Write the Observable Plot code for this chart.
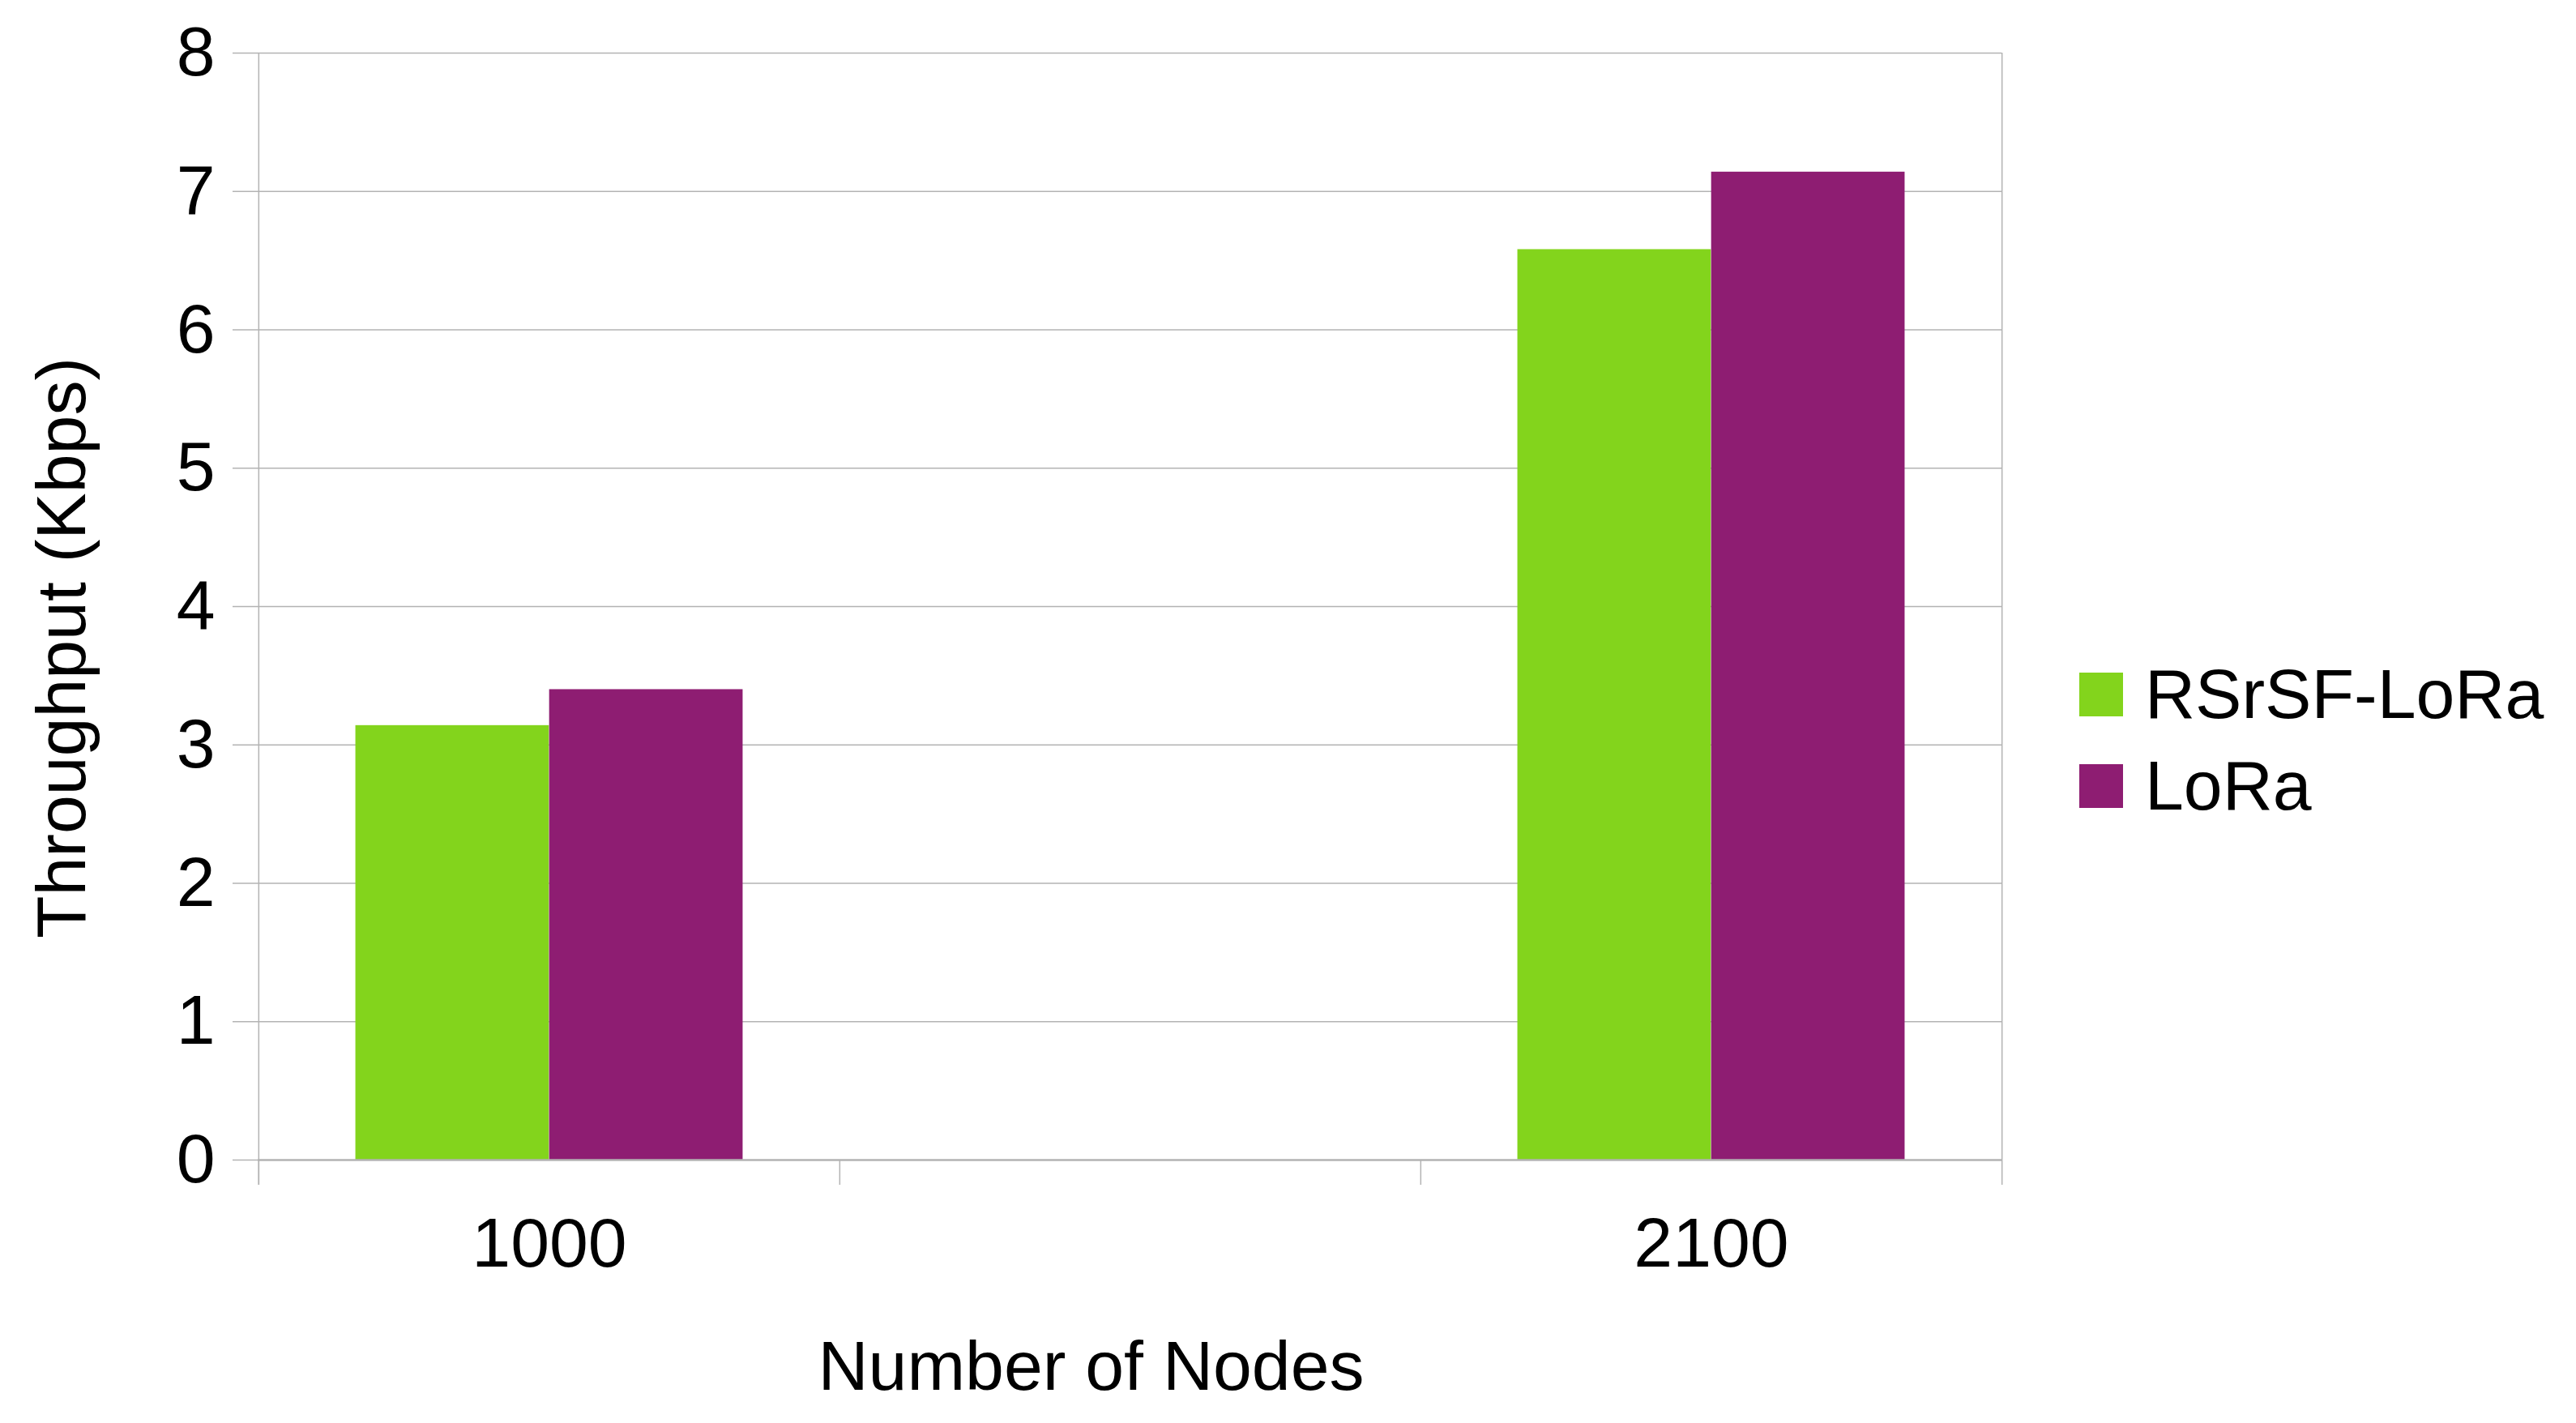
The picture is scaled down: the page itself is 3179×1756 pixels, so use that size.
<!DOCTYPE html>
<html>
<head>
<meta charset="utf-8">
<script src="https://cdn.jsdelivr.net/npm/d3@7"></script>
<script src="https://cdn.jsdelivr.net/npm/@observablehq/plot@0.6"></script>
<style>
  html, body { margin: 0; padding: 0; background: #ffffff; overflow: hidden; }
  #wrap { position: relative; width: 3179px; height: 1756px; font-family: "Liberation Sans", Arial, sans-serif; }
  #legend { position: absolute; left: 2566px; top: 800px; }
  .row { display: flex; align-items: center; height: 113px; }
  .sw { width: 54px; height: 54px; margin-right: 27px; }
  .lab { font-size: 86px; color: #000; white-space: nowrap; }
</style>
</head>
<body>
<div id="wrap"><div id="legend"></div></div>
<script>
// ---- data ----
const nodeCategories = ["1000", "", "2100"];      // x-axis slots (middle slot empty in the original)
const nodesWithData = ["1000", "2100"];
const seriesNames = ["RSrSF-LoRa", "LoRa"];
const rsrsfValues = [3.14, 6.58];
const loraValues = [3.40, 7.14];
const yTicks = [0, 1, 2, 3, 4, 5, 6, 7, 8];
const seriesColors = ["#83d41c", "#8e1d72"];
const xTitle = "Number of Nodes";
const yTitle = "Throughput (Kbps)";

const rows = [];
nodesWithData.forEach((n, i) => {
  rows.push({nodes: n, series: seriesNames[0], value: rsrsfValues[i]});
  rows.push({nodes: n, series: seriesNames[1], value: loraValues[i]});
});

// ---- layout ----
const W = 3179, H = 1756;
const mL = 318, mR = 709, mT = 65, mB = 325;
const plotW = W - mL - mR, plotH = H - mT - mB;
const bw = plotW / nodeCategories.length;
const grid = "#b3b3b3";

const barMarks = seriesNames.map((s, i) =>
  Plot.barY(rows.filter(d => d.series === s), {
    x: "nodes", y: "value", fill: "series",
    insetLeft: i === 0 ? bw / 6 : bw / 2,
    insetRight: i === 0 ? bw / 2 : bw / 6
  })
);

const chart = Plot.plot({
  width: W, height: H,
  marginLeft: mL, marginRight: mR, marginTop: mT, marginBottom: mB,
  style: {fontFamily: "Liberation Sans, Arial, sans-serif", fontSize: "86px", background: "#ffffff", color: "#000", overflow: "visible"},
  x: {type: "band", domain: nodeCategories, paddingInner: 0, paddingOuter: 0, label: null},
  y: {domain: [0, 8], label: null},
  color: {domain: seriesNames, range: seriesColors},
  marks: [
    Plot.ruleY(yTicks.filter(t => t !== 0), {y: d => d, stroke: grid, strokeWidth: 1.5}),
    ...barMarks,
    Plot.ruleY([0], {y: d => d, stroke: grid, strokeWidth: 2.5}),
    // left and right border lines
    Plot.ruleX([nodeCategories[0]], {x: d => d, dx: -bw / 2, insetBottom: -31, stroke: grid, strokeWidth: 1.5}),
    Plot.ruleX([nodeCategories[nodeCategories.length - 1]], {x: d => d, dx: bw / 2, insetBottom: -31, stroke: grid, strokeWidth: 1.5}),
    // category boundary ticks below the axis
    Plot.ruleX(nodeCategories, {x: d => d, dx: -bw / 2, insetTop: plotH, insetBottom: -31, stroke: grid, strokeWidth: 1.5}),
    Plot.axisY(yTicks, {anchor: "left", tickSize: 31, tickPadding: 22, fontSize: 86, stroke: grid, strokeWidth: 1.5, fill: "#000", label: null, tickFormat: d => String(d)}),
    Plot.axisX(nodeCategories, {anchor: "bottom", tickSize: 0, tickPadding: 70, fontSize: 86, fill: "#000", label: null}),
    Plot.text([xTitle], {frameAnchor: "bottom", textAnchor: "middle", dx: -48, dy: 283, fontSize: 86, fill: "#000", lineAnchor: "bottom"}),
    Plot.text([yTitle], {frameAnchor: "left", textAnchor: "middle", rotate: -90, dx: -241, dy: 51, fontSize: 86, fill: "#000"})
  ]
});
document.getElementById("wrap").prepend(chart);

// ---- legend ----
const legend = document.getElementById("legend");
seriesNames.forEach((s, i) => {
  const row = document.createElement("div");
  row.className = "row";
  const sw = document.createElement("div");
  sw.className = "sw";
  sw.style.background = seriesColors[i];
  const lab = document.createElement("div");
  lab.className = "lab";
  lab.textContent = s;
  row.appendChild(sw);
  row.appendChild(lab);
  legend.appendChild(row);
});
</script>
</body>
</html>
